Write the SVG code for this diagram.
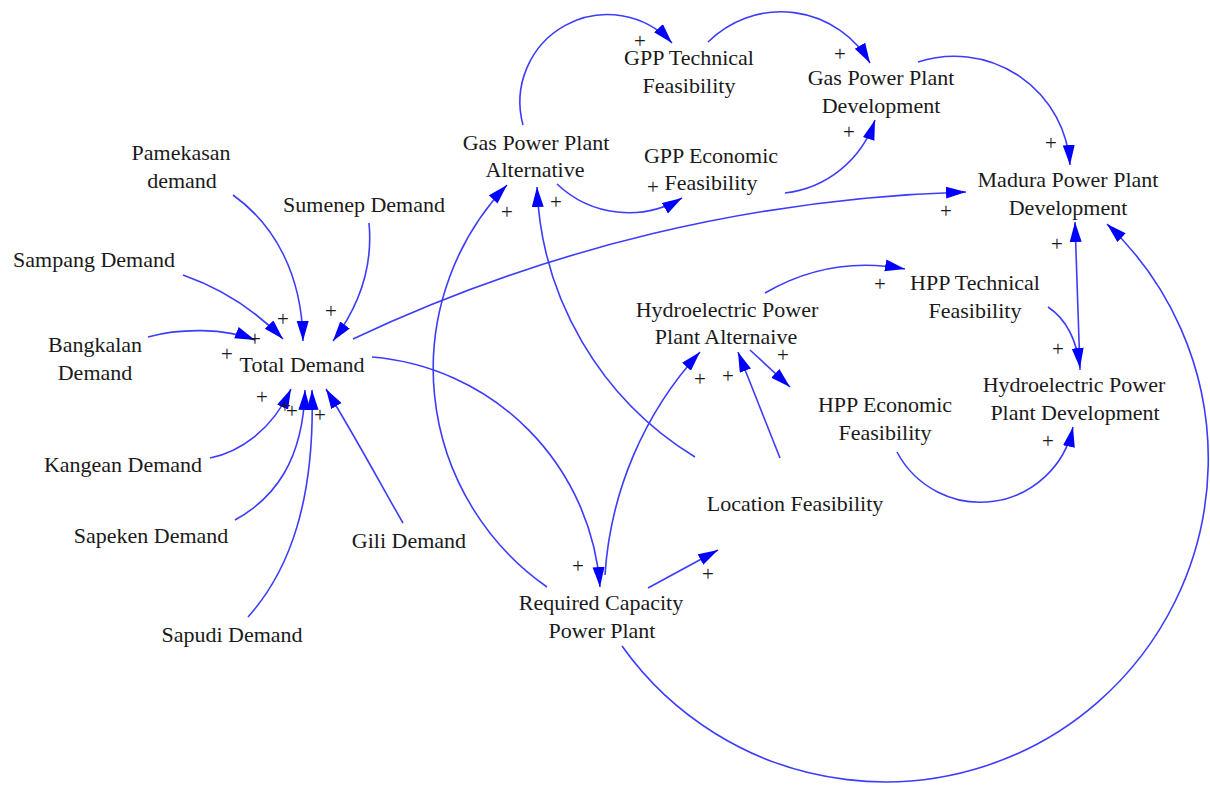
<svg xmlns="http://www.w3.org/2000/svg" width="1210" height="789" viewBox="0 0 1210 789">
<style>
.lbl{font-family:"Liberation Serif","Times New Roman",serif;font-size:22px;fill:#1a1a1a;text-anchor:middle}
.pol{font-family:"Liberation Serif","Times New Roman",serif;font-size:21px;fill:#1a1a1a;text-anchor:middle}
.c{fill:none;stroke:#3c3cff;stroke-width:1.6;marker-end:url(#ah)}
</style>
<defs>
<marker id="ah" markerWidth="21" markerHeight="13" refX="20" refY="6" orient="auto" markerUnits="userSpaceOnUse">
<path d="M0,0 L20,6 L0,12 Z" fill="#0000ff"/>
</marker>
</defs>
<rect width="1210" height="789" fill="#ffffff"/>
<g id="connectors">
<path class="c" d="M233,195 C275,225 302,275 303,341"/>
<path class="c" d="M369,223 C373,265 360,305 333,341"/>
<path class="c" d="M183,275 C220,288 255,310 283,339"/>
<path class="c" d="M148,337 C180,328 225,328 255,340"/>
<path class="c" d="M210,458 C240,452 272,430 291,389"/>
<path class="c" d="M235,520 C275,498 303,460 305,390"/>
<path class="c" d="M248,617 C290,570 315,500 312,390"/>
<path class="c" d="M403,523 C385,492 356,438 326,389"/>
<path class="c" d="M353,339 A1542,1542 0 0,1 966,192"/>
<path class="c" d="M372,357 A249,249 0 0,1 600,587"/>
<path class="c" d="M547,587 A266,266 0 0,1 507,185"/>
<path class="c" d="M695,457 A331,331 0 0,1 537,187"/>
<path class="c" d="M523,125 A87.5,87.5 0 0,1 672,43"/>
<path class="c" d="M557,184 A104,104 0 0,0 682,198"/>
<path class="c" d="M708,42 A103,103 0 0,1 870,63"/>
<path class="c" d="M785,193 A108,108 0 0,0 875,120"/>
<path class="c" d="M918,62 A116,116 0 0,1 1070,165"/>
<path class="c" d="M1080,370 L1075,222"/>
<path class="c" d="M648,588 L718,550"/>
<path class="c" d="M605,575 A365,365 0 0,1 700,352"/>
<path class="c" d="M780,458 L738,352"/>
<path class="c" d="M765,293 Q830,255 905,269"/>
<path class="c" d="M750,350 L790,387"/>
<path class="c" d="M1048,307 Q1075,325 1080,368"/>
<path class="c" d="M897,452 A94.5,94.5 0 0,0 1073,427"/>
<path class="c" d="M622,646 A323,323 0 1,0 1107,224"/>
</g>
<g id="polarities">
<text class="pol" x="283" y="326">+</text>
<text class="pol" x="331" y="318">+</text>
<text class="pol" x="255" y="346">+</text>
<text class="pol" x="227" y="361">+</text>
<text class="pol" x="262" y="404">+</text>
<text class="pol" x="285" y="413">+</text>
<text class="pol" x="292" y="418">+</text>
<text class="pol" x="320" y="422">+</text>
<text class="pol" x="946" y="218">+</text>
<text class="pol" x="578" y="573">+</text>
<text class="pol" x="507" y="219">+</text>
<text class="pol" x="556" y="209">+</text>
<text class="pol" x="640" y="48">+</text>
<text class="pol" x="653" y="194">+</text>
<text class="pol" x="840" y="61">+</text>
<text class="pol" x="849" y="139">+</text>
<text class="pol" x="1051" y="150">+</text>
<text class="pol" x="1057" y="251">+</text>
<text class="pol" x="708" y="581">+</text>
<text class="pol" x="700" y="386">+</text>
<text class="pol" x="728" y="383">+</text>
<text class="pol" x="880" y="291">+</text>
<text class="pol" x="783" y="362">+</text>
<text class="pol" x="1058" y="356">+</text>
<text class="pol" x="1048" y="448">+</text>
</g>
<g id="pamekasan-demand"><text class="lbl" x="181" y="160">Pamekasan</text><text class="lbl" x="182" y="188">demand</text></g>
<g id="sumenep-demand"><text class="lbl" x="364" y="212">Sumenep Demand</text></g>
<g id="sampang-demand"><text class="lbl" x="94" y="267">Sampang Demand</text></g>
<g id="bangkalan-demand"><text class="lbl" x="95" y="352">Bangkalan</text><text class="lbl" x="95" y="380">Demand</text></g>
<g id="total-demand"><text class="lbl" x="302" y="372">Total Demand</text></g>
<g id="kangean-demand"><text class="lbl" x="123" y="472">Kangean Demand</text></g>
<g id="sapeken-demand"><text class="lbl" x="151" y="543">Sapeken Demand</text></g>
<g id="gili-demand"><text class="lbl" x="409" y="548">Gili Demand</text></g>
<g id="sapudi-demand"><text class="lbl" x="232" y="642">Sapudi Demand</text></g>
<g id="gas-power-plant-alternative"><text class="lbl" x="536" y="150">Gas Power Plant</text><text class="lbl" x="535" y="177">Alternative</text></g>
<g id="gpp-technical-feasibility"><text class="lbl" x="689" y="65">GPP Technical</text><text class="lbl" x="689" y="93">Feasibility</text></g>
<g id="gpp-economic-feasibility"><text class="lbl" x="711" y="163">GPP Economic</text><text class="lbl" x="711" y="190">Feasibility</text></g>
<g id="gas-power-plant-development"><text class="lbl" x="881" y="85">Gas Power Plant</text><text class="lbl" x="881" y="113">Development</text></g>
<g id="madura-power-plant-development"><text class="lbl" x="1068" y="187">Madura Power Plant</text><text class="lbl" x="1068" y="215">Development</text></g>
<g id="hydroelectric-power-plant-alternaive"><text class="lbl" x="727" y="317">Hydroelectric Power</text><text class="lbl" x="726" y="344">Plant Alternaive</text></g>
<g id="hpp-technical-feasibility"><text class="lbl" x="975" y="290">HPP Technical</text><text class="lbl" x="975" y="318">Feasibility</text></g>
<g id="hydroelectric-power-plant-development"><text class="lbl" x="1074" y="392">Hydroelectric Power</text><text class="lbl" x="1075" y="420">Plant Development</text></g>
<g id="hpp-economic-feasibility"><text class="lbl" x="885" y="412">HPP Economic</text><text class="lbl" x="885" y="440">Feasibility</text></g>
<g id="location-feasibility"><text class="lbl" x="795" y="511">Location Feasibility</text></g>
<g id="required-capacity-power-plant"><text class="lbl" x="601" y="610">Required Capacity</text><text class="lbl" x="602" y="638">Power Plant</text></g>
</svg>
